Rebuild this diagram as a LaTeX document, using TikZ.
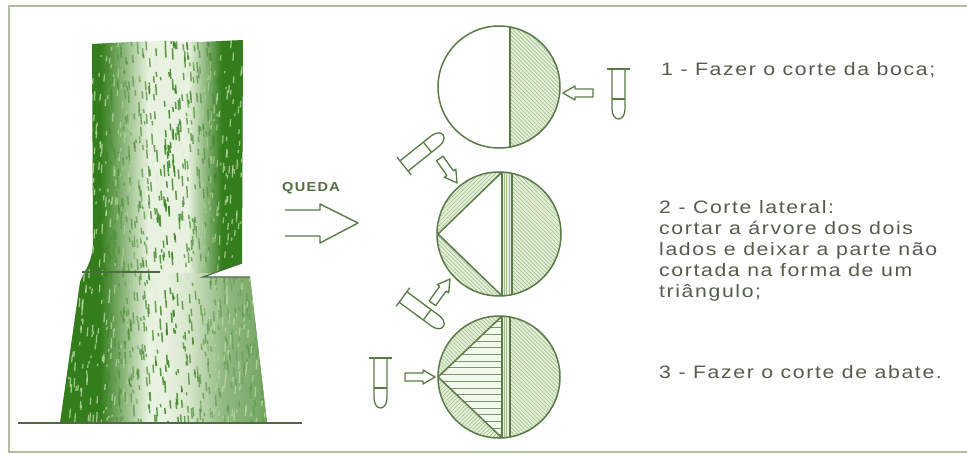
\documentclass[tikz,border=0pt]{standalone}
\usepackage{fontspec}
\setmainfont{Liberation Sans}
\newfontfamily\txtfont[FakeStretch=1.18,LetterSpace=9]{Liberation Sans}
\newfontfamily\lblfontfamily[FakeStretch=1.12,LetterSpace=10]{Liberation Sans}
\usetikzlibrary{patterns.meta}

\definecolor{frameC}{HTML}{B2BC9E}
\definecolor{lineC}{HTML}{5A7A48}
\definecolor{barkD}{HTML}{337D1C}
\definecolor{barkL}{HTML}{E9F2E0}
\definecolor{barkSpeck}{HTML}{BFDCA8}
\definecolor{hatchBg}{HTML}{E6F0DA}
\definecolor{hatchC}{HTML}{A3BF90}
\definecolor{textC}{HTML}{555C4E}
\definecolor{groundC}{HTML}{4F6B44}

\tikzset{
  outl/.style={draw=lineC, line width=1.5pt},
  iconline/.style={draw=lineC, line width=1.3pt, line join=round},
  txt/.style={text=textC, font=\txtfont\fontsize{18}{21}\selectfont, inner sep=0pt, anchor=base west},
  lbl/.style={text=lineC!90!black, font=\lblfontfamily\bfseries\fontsize{13}{15}\selectfont, inner sep=0pt, anchor=base west},
  hatchbase/.style={fill=hatchBg},
  hatchNW/.style={pattern={Lines[angle=-45,distance=2.8pt,line width=0.7pt]}, pattern color=hatchC},
  hatchNE/.style={pattern={Lines[angle=45,distance=2.8pt,line width=0.7pt]}, pattern color=hatchC},
  hatchV/.style={pattern={Lines[angle=90,distance=2.8pt,line width=0.7pt]}, pattern color=hatchC},
  % wedge: crossbar at the origin, rounded tip towards +y
  pics/wedge/.style={code={
    \draw[iconline] (-11.5,0) -- (11.5,0);
    \draw[iconline] (-6.5,0) -- (-6.5,40) .. controls (-6.5,46) and (-3.5,50) .. (0,50)
                    .. controls (3.5,50) and (6.5,46) .. (6.5,40) -- (6.5,0);
    \draw[iconline] (-6.5,30) -- (6.5,30);
  }},
  % hollow block arrow: tip at the origin, pointing towards +x
  pics/blockarrow/.style={code={
    \draw[iconline, fill=white] (0,0) -- (-12,-7) -- (-12,-4) -- (-30,-4) -- (-30,4)
                    -- (-12,4) -- (-12,7) -- cycle;
  }},
}

\def\trunkpath{(92,44) -- (130,42) -- (160,41) -- (200,42) -- (243,40) -- (242,263) -- (203,277) -- (250,277)
  -- (267,423) -- (60,423) -- (80,282) .. controls (84,270) and (93,264) .. (93,240) -- cycle}

\begin{document}
\begin{tikzpicture}[x=1pt,y=-1pt]
\useasboundingbox (0,0) rectangle (967,455);
\fill[white] (0,0) rectangle (967,455);

% frame
\draw[frameC, line width=1.8pt] (967,6) -- (9,6) -- (9,452) -- (967,452);

% ---------- tree trunk ----------
\begin{scope}
  \clip \trunkpath;
  \fill[barkL] (50,30) rectangle (280,430);
  \fill[barkD] (50,30) rectangle (100,430);
  \shade[left color=barkD, right color=barkL] (100,30) rectangle (148,430);
  \shade[left color=barkL, right color=barkD] (188,30) rectangle (222,430);
  \fill[barkD] (222,30) rectangle (280,430);
  % the root flare is lighter on its right side
  \shade[left color=barkL, right color=barkD!55!barkL, opacity=0.75] (165,273) rectangle (270,430);
  \pgfmathsetseed{42}
  \foreach \i in {1,...,1100}{
    \pgfmathsetmacro{\xx}{58+212*rnd}
    \pgfmathsetmacro{\yy}{36+392*rnd}
    \pgfmathsetmacro{\ll}{3+9*rnd}
    \pgfmathsetmacro{\dd}{min(1,abs(\xx-168)/60)}
    \pgfmathsetmacro{\op}{0.25+0.6*(1-\dd)}
    \draw[barkD, line width=1.5pt, opacity=\op] (\xx,\yy) -- ++(0.6,\ll);
  }
  \foreach \i in {1,...,900}{
    \pgfmathsetmacro{\xx}{58+212*rnd}
    \pgfmathsetmacro{\yy}{36+392*rnd}
    \pgfmathsetmacro{\ll}{2+8*rnd}
    \pgfmathsetmacro{\dd}{min(1,abs(\xx-168)/60)}
    \pgfmathsetmacro{\op}{0.75*\dd}
    \draw[barkSpeck, line width=1.3pt, opacity=\op] (\xx,\yy) -- ++(-0.5,\ll);
  }
\end{scope}
% felling cut and notch
\draw[groundC, line width=1.2pt] (82,272) -- (160,272);
\draw[groundC, line width=1.2pt] (242,263) -- (203,277) -- (250,277);
% ground
\draw[groundC, line width=2pt] (18,423) -- (302,423);

% ---------- fall direction ----------
\node[lbl] (queda) at (282,191) {QUEDA};
\draw[outl, line width=1.4pt, line join=round] (285,210) -- (320,210) -- (320,204) -- (358,223)
   -- (320,243) -- (320,236) -- (285,236);

% ---------- circle 1: notch cut ----------
\coordinate (c1) at (499,87);
\begin{scope}
  \clip (c1) circle[radius=61pt];
  \fill[hatchbase] (510,20) rectangle (565,155);
  \fill[hatchNW] (510,20) rectangle (565,155);
\end{scope}
\draw[outl] (510,26) -- (510,148);
\draw[outl] (c1) circle[radius=61pt];

% ---------- circle 2: lateral cuts ----------
\coordinate (c2) at (499,234);
\begin{scope}
  \clip (c2) circle[radius=62pt];
  \fill[hatchbase] (430,165) rectangle (570,300);
  \fill[hatchNW] (512,165) rectangle (570,300);
  \fill[hatchV] (502,165) rectangle (512,300);
  \fill[hatchNE] (430,165) rectangle (502,234);
  \fill[hatchNW] (430,234) rectangle (502,300);
  \fill[white] (438,234) -- (502,172.1) -- (502,295.9) -- cycle;
\end{scope}
\draw[outl] (438,234) -- (502,172.1);
\draw[outl] (438,234) -- (502,295.9);
\draw[outl] (502,172) -- (502,296);
\draw[outl] (512,173) -- (512,295);
\draw[outl] (c2) circle[radius=62pt];

% ---------- circle 3: felling cut ----------
\coordinate (c3) at (499,377);
\begin{scope}
  \clip (c3) circle[radius=61pt];
  \fill[hatchbase] (430,310) rectangle (570,445);
  \fill[hatchNW] (510,310) rectangle (570,445);
  \fill[hatchV] (502,310) rectangle (510,445);
  \fill[hatchNW] (430,310) rectangle (502,377);
  \fill[hatchNE] (430,377) rectangle (502,445);
  \fill[hatchBg!50!white] (438,377) -- (502,316.1) -- (502,437.9) -- cycle;
  \clip (438,377) -- (502,316.1) -- (502,437.9) -- cycle;
  \foreach \k in {0,...,17}{
    \draw[lineC!80, line width=0.9pt] (430,{321+6.7*\k}) -- (505,{321+6.7*\k});
  }
\end{scope}
\draw[outl] (438,377) -- (502,316.1);
\draw[outl] (438,377) -- (502,437.9);
\draw[outl] (502,316) -- (502,438);
\draw[outl] (510,317) -- (510,437);
\draw[outl] (c3) circle[radius=61pt];

% ---------- saws and cut directions ----------
\pic at (618.5,69) {wedge};
\pic at (563,93) [rotate=180] {blockarrow};

\pic at (404,166) [rotate=128.7] {wedge};
\pic at (457,183) [rotate=-55] {blockarrow};

\pic at (403,297) [rotate=53.6] {wedge};
\pic at (450,279) [rotate=54] {blockarrow};

\pic at (380.5,358) {wedge};
\pic at (435,377) {blockarrow};

% ---------- steps ----------
\node[txt] (s1) at (661,75) {1 - Fazer o corte da boca;};
\node[txt] (s2a) at (659,213) {2 - Corte lateral:};
\node[txt] (s2b) at (659,234) {cortar a árvore dos dois};
\node[txt] (s2c) at (659,255) {lados e deixar a parte não};
\node[txt] (s2d) at (659,276) {cortada na forma de um};
\node[txt] (s2e) at (659,297) {triângulo;};
\node[txt] (s3) at (659,378) {3 - Fazer o corte de abate.};
\end{tikzpicture}
\end{document}
